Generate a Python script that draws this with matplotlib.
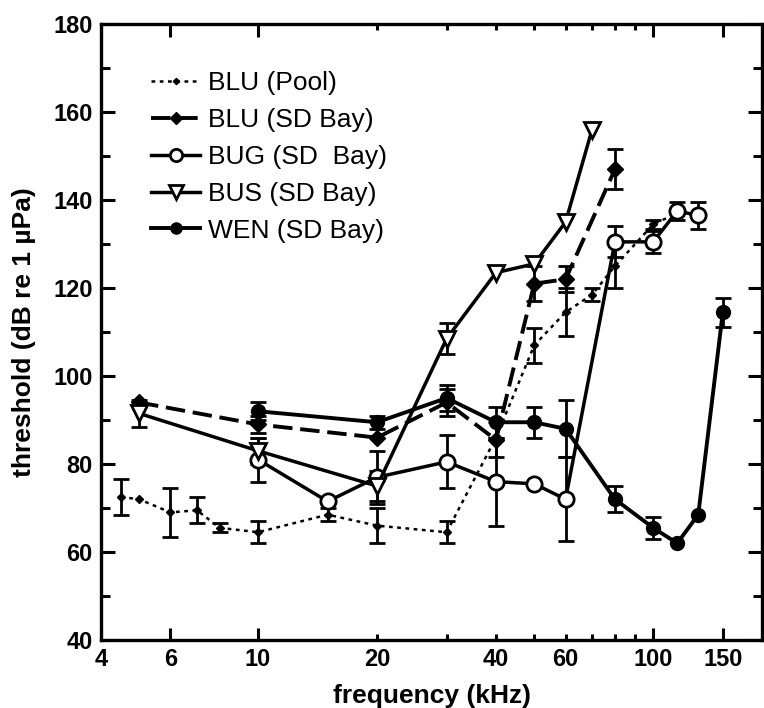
import numpy as np
import matplotlib
matplotlib.use("Agg")
import matplotlib.pyplot as plt
from matplotlib.ticker import FixedLocator, FixedFormatter

plt.rcParams['font.family'] = ['Liberation Sans', 'DejaVu Sans']

# ---- data (frequency kHz, threshold dB re 1 uPa, +/- error) ----
blu_pool_f = [4.5, 5, 6, 7, 8, 10, 15, 20, 30, 40, 50, 60, 70, 80, 100, 115]
blu_pool_t = [72.5, 72, 69, 69.5, 65.5, 64.5, 68.5, 66, 64.5, 86, 107, 114.5, 118.5, 125, 134.5, 137]
blu_pool_e = [4, np.nan, 5.5, 3, 1, 2.5, 1.5, 4, 2.5, np.nan, 4, 5.5, 1.5, 5, 1, np.nan]

blu_sd_f = [5, 10, 20, 30, 40, 50, 60, 80]
blu_sd_t = [94, 89, 86, 94, 85.5, 121, 122, 147]
blu_sd_e = [np.nan, 2, np.nan, 3, 4, 4, 3, 4.5]

bug_f = [10, 15, 20, 30, 40, 50, 60, 80, 100, 115, 130]
bug_t = [81, 71.5, 77, 80.5, 76, 75.5, 72, 130.5, 130.5, 137.5, 136.5]
bug_e = [5, np.nan, 6, 6, 10, np.nan, 9.5, 3.5, 2.5, 2, 3]

bus_f = [5, 10, 20, 30, 40, 50, 60, 70]
bus_t = [91.5, 83, 75, 108.5, 123.5, 125.5, 135, 156]
bus_e = [3, 3, 3.5, 3.5, np.nan, np.nan, np.nan, np.nan]

wen_f = [10, 20, 30, 40, 50, 60, 80, 100, 115, 130, 150]
wen_t = [92, 89.5, 95, 89.5, 89.5, 88, 72, 65.5, 62, 68.5, 114.5]
wen_e = [2, 1.5, 3, 3.5, 3.5, 6.5, 3, 2.5, np.nan, np.nan, 3.3]

labels = ['BLU (Pool)', 'BLU (SD Bay)', 'BUG (SD  Bay)', 'BUS (SD Bay)', 'WEN (SD Bay)']

major_x = [4, 6, 10, 100, 150]
major_x_labels = ['4', '6', '10', '100', '150']
minor_x = [20, 30, 40, 50, 60, 70, 80, 90]
minor_x_labels = ['20', '', '40', '', '60', '', '', '']

fig = plt.figure(figsize=(7.64, 7.08), dpi=100)
ax = fig.add_axes([0.132, 0.096, 0.866, 0.870])
ax.set_xscale('log')

cap = 5.5
common = dict(color='black', ecolor='black', capsize=cap, capthick=2.0, elinewidth=2.0)

h1 = ax.errorbar(blu_pool_f, blu_pool_t, yerr=blu_pool_e, linestyle=(0, (1.5, 1.8)), linewidth=1.8,
                 marker='D', markersize=4, markerfacecolor='black', markeredgecolor='black',
                 zorder=2, **common)
h2 = ax.errorbar(blu_sd_f, blu_sd_t, yerr=blu_sd_e, linestyle=(0, (5, 2)), linewidth=2.8,
                 marker='D', markersize=8, markerfacecolor='black', markeredgecolor='black',
                 zorder=3, **common)
h3 = ax.errorbar(bug_f, bug_t, yerr=bug_e, linestyle='-', linewidth=2.5,
                 marker='o', markersize=11, markerfacecolor='white', markeredgecolor='black',
                 markeredgewidth=2.0, zorder=4, **common)
h4 = ax.errorbar(bus_f, bus_t, yerr=bus_e, linestyle='-', linewidth=2.5,
                 marker='v', markersize=12, markerfacecolor='white', markeredgecolor='black',
                 markeredgewidth=2.0, zorder=4, **common)
h5 = ax.errorbar(wen_f, wen_t, yerr=wen_e, linestyle='-', linewidth=2.8,
                 marker='o', markersize=10, markerfacecolor='black', markeredgecolor='black',
                 zorder=5, **common)

ax.set_xlim(4, 189)
ax.set_ylim(40, 180)

ax.xaxis.set_major_locator(FixedLocator(major_x))
ax.xaxis.set_major_formatter(FixedFormatter(major_x_labels))
ax.xaxis.set_minor_locator(FixedLocator(minor_x))
ax.xaxis.set_minor_formatter(FixedFormatter(minor_x_labels))

ax.set_yticks(np.arange(40, 181, 20))
ax.set_yticks(np.arange(50, 180, 20), minor=True)

ax.tick_params(axis='x', which='major', direction='in', length=9, width=2.2, top=True,
               labelsize=17, pad=6)
ax.tick_params(axis='x', which='minor', direction='in', length=4.5, width=2.2, top=True,
               labelsize=17, pad=6)
ax.tick_params(axis='y', which='major', direction='in', length=10, width=2.2, right=True,
               labelsize=17, pad=6)
ax.tick_params(axis='y', which='minor', direction='in', length=6.5, width=2.2, right=True)
for lab in ax.get_xticklabels(which='both') + ax.get_yticklabels():
    lab.set_fontweight('bold')

for s in ax.spines.values():
    s.set_linewidth(2.4)

ax.set_xlabel('frequency (kHz)', fontsize=19, fontweight='bold', labelpad=9)
ax.set_ylabel('threshold (dB re 1 µPa)', fontsize=19, fontweight='bold', labelpad=12)

handles = [h[0] for h in (h1, h2, h3, h4, h5)]
leg = ax.legend(handles, labels, loc='upper left', bbox_to_anchor=(0.060, 0.941),
                frameon=False, fontsize=19, handlelength=1.85, handletextpad=0.3,
                labelspacing=0.49, borderaxespad=0, markerscale=0.8)

fig.savefig('out.png', dpi=100)
